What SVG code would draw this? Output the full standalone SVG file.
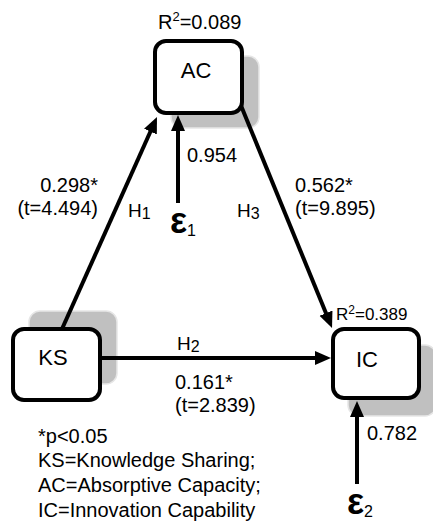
<svg xmlns="http://www.w3.org/2000/svg" width="433" height="522" viewBox="0 0 433 522">
  <style>
    text { font-family: "Liberation Sans", Arial, sans-serif; fill: #000; }
    .lbl { font-size: 20px; }
    .node { font-size: 22px; text-anchor: middle; }
    .hyp { font-size: 19px; }
    .sub { font-size: 16px; font-weight: normal; }
    .eps { font-size: 36px; font-weight: bold; }
    .box { fill: #fff; stroke: #000; stroke-width: 4; }
    .shadow { fill: #c0c0c0; stroke: #e6e6e6; stroke-width: 1.5; }
    .path { stroke: #000; stroke-width: 4; fill: none; marker-end: url(#arrow); }
  </style>
  <defs>
    <marker id="arrow" markerUnits="userSpaceOnUse" markerWidth="17" markerHeight="15" refX="8" refY="7" orient="auto">
      <path d="M0,0 L16,7 L0,14 z" fill="#000"/>
    </marker>
  </defs>

  <!-- drop shadows behind the construct boxes -->
  <g id="shadows">
    <rect class="shadow" x="171" y="56" width="88" height="72" rx="11"/>
    <rect class="shadow" x="29" y="311" width="88" height="73" rx="11"/>
    <rect class="shadow" x="348" y="345" width="88" height="71" rx="11"/>
  </g>

  <!-- structural paths and error terms -->
  <g id="connectors">
    <line class="path" x1="59.3" y1="335" x2="153.7" y2="124.3"/>
    <line class="path" x1="238.7" y1="100" x2="329" y2="320.6"/>
    <line class="path" x1="95" y1="358" x2="323" y2="358"/>
    <line class="path" x1="178" y1="203" x2="178" y2="123"/>
    <line class="path" x1="357" y1="484" x2="357" y2="409"/>
  </g>

  <g id="AC">
    <rect class="box" x="155" y="41" width="87" height="72" rx="11"/>
    <text class="node" x="196" y="78">AC</text>
    <text class="lbl" x="158" y="29">R<tspan style="font-size:13px" dy="-8">2</tspan><tspan dy="8">=0.089</tspan></text>
  </g>

  <g id="KS">
    <rect class="box" x="13" y="329" width="87" height="71" rx="11"/>
    <text class="node" x="53" y="365">KS</text>
  </g>

  <g id="IC">
    <rect class="box" x="333" y="329" width="86" height="69" rx="11"/>
    <text class="node" x="367" y="367">IC</text>
    <text x="336" y="320" style="font-size:17px">R<tspan style="font-size:12px" dy="-6">2</tspan><tspan dy="6">=0.389</tspan></text>
  </g>

  <g id="eps1">
    <text class="eps" x="170" y="233">ε<tspan class="sub" dy="3">1</tspan></text>
  </g>
  <g id="eps2">
    <text class="eps" x="347" y="514">ε<tspan class="sub" dy="3">2</tspan></text>
  </g>

  <!-- path coefficients -->
  <g id="labels">
    <text class="lbl" x="98" y="192" text-anchor="end">0.298*</text>
    <text class="lbl" x="98" y="215" text-anchor="end">(t=4.494)</text>
    <text class="hyp" x="128" y="217">H<tspan class="sub" dy="2">1</tspan></text>

    <text class="lbl" x="295" y="192">0.562*</text>
    <text class="lbl" x="295" y="215">(t=9.895)</text>
    <text class="hyp" x="237" y="217">H<tspan class="sub" dy="2">3</tspan></text>

    <text class="hyp" x="177" y="350">H<tspan class="sub" dy="2">2</tspan></text>
    <text class="lbl" x="175" y="389">0.161*</text>
    <text class="lbl" x="175" y="412">(t=2.839)</text>

    <text class="lbl" x="187" y="162">0.954</text>
    <text class="lbl" x="367" y="440">0.782</text>
  </g>

  <g id="legend">
    <text class="lbl" x="38" y="443">*p&lt;0.05</text>
    <text class="lbl" x="38" y="467">KS=Knowledge Sharing;</text>
    <text class="lbl" x="38" y="492">AC=Absorptive Capacity;</text>
    <text class="lbl" x="38" y="517">IC=Innovation Capability</text>
  </g>
</svg>
